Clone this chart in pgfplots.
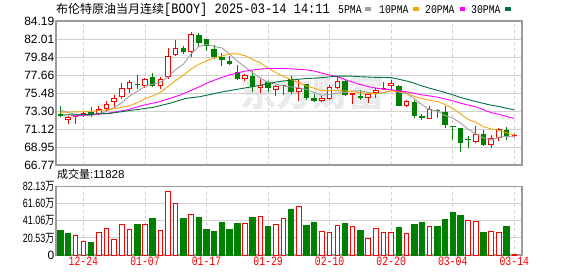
\documentclass[border=0pt]{standalone}
\usepackage{fontspec}
\setmainfont{Liberation Sans}
\newfontfamily\cjk{Noto Sans CJK SC}
\newfontfamily\mono{Liberation Mono}
\usepackage{graphicx}
\usepackage{pgfplots}
\pgfplotsset{compat=1.18}
\usepackage{pgfplotstable}
\definecolor{cred}{RGB}{255,0,0}
\definecolor{cgreen}{RGB}{0,128,0}
\definecolor{maA}{RGB}{160,160,160}
\definecolor{maB}{RGB}{245,165,10}
\definecolor{maC}{RGB}{255,0,255}
\definecolor{maD}{RGB}{0,115,60}
\definecolor{framec}{RGB}{155,155,155}
\definecolor{gridc}{RGB}{208,208,208}
\definecolor{wm}{RGB}{234,234,236}
\newcommand{\ms}[1]{\scalebox{1}[1.2]{\mono #1}}
\newcommand{\md}[1]{\scalebox{1}[1.3]{\mono #1}}
\pgfplotsset{
  wick/.style={draw=none, mark=none, forget plot, error bars/.cd, y dir=plus, y explicit, error mark=none, error bar style={draw=#1, line width=1pt}},
  body/.style 2 args={draw=none, mark=none, forget plot, error bars/.cd, y dir=plus, y explicit, error mark=none, error bar style={draw=#1, line width=#2}},
}

\pgfplotstableread{
x o h l c
1 72.21 72.66 71.69 72.62
2 72.58 72.65 71.69 72.62
3 72.70 73.20 72.60 73.10
5 72.94 73.90 72.80 73.59
6 73.56 74.47 73.20 74.19
7 74.43 75.20 73.75 74.92
8 74.96 76.69 74.80 76.04
9 76.00 77.00 75.50 76.77
11 76.33 77.25 76.10 77.21
13 76.33 77.40 75.95 77.17
14 77.38 80.96 77.17 79.92
15 80.08 81.93 80.00 80.96
17 80.44 82.90 79.79 82.62
24 77.21 77.80 76.90 77.66
26 76.09 77.13 75.48 76.49
28 75.88 76.50 75.16 76.29
29 76.37 76.50 75.20 76.50
31 75.56 77.00 74.51 76.13
34 74.51 75.10 74.45 74.84
35 74.75 76.40 74.60 76.20
36 76.13 77.50 76.00 76.93
38 75.24 75.50 74.11 75.48
40 74.84 75.50 74.27 75.32
41 75.48 76.10 74.90 75.88
42 75.96 76.81 75.90 76.08
43 76.29 77.00 75.90 76.69
45 73.95 74.60 73.80 74.51
48 72.34 73.87 72.30 73.54
54 69.59 71.45 69.40 70.48
56 69.19 70.40 68.79 70.00
57 70.08 71.30 69.67 71.13
59 70.24 70.50 70.10 70.30
}\redc

\pgfplotstableread{
x o h l c
0 72.90 73.91 72.54 72.74
4 73.18 73.75 72.60 72.78
10 76.57 77.66 75.96 76.45
12 77.38 77.94 76.20 76.33
16 80.92 81.20 80.20 80.48
18 82.54 82.70 81.00 81.53
19 81.97 82.00 80.60 81.13
20 80.85 81.30 79.60 79.85
21 79.79 80.28 78.79 79.51
22 79.39 79.96 78.90 78.99
23 78.02 78.90 77.10 77.21
25 77.50 78.10 75.64 76.25
27 76.85 76.90 75.60 76.12
30 77.17 77.50 75.30 75.64
32 76.53 76.60 74.60 74.92
33 74.92 75.40 74.40 74.51
37 76.93 77.00 75.10 75.24
39 75.16 75.88 74.60 74.84
44 76.29 76.45 73.90 73.95
46 74.35 74.67 72.42 72.74
47 72.70 72.98 72.17 72.50
49 73.46 73.50 72.43 73.30
50 73.22 73.87 71.29 71.61
51 71.40 71.42 69.84 71.35
52 71.21 71.25 68.40 69.43
53 69.95 70.24 68.79 69.85
55 70.48 71.04 69.10 69.19
58 70.96 71.37 69.84 70.24
}\greenc

\pgfplotstableread{
x v
2 23.1
3 16.2
5 26.7
6 31.6
7 18.2
8 36.4
9 30.3
11 36.8
13 29.1
14 76.5
15 62.3
17 48.9
24 38.0
26 46.5
28 36.8
29 44.1
31 58.5
34 28.8
35 27.6
36 34.9
38 33.7
40 20.0
41 32.1
42 27.6
43 27.6
45 26.4
48 34.1
53 40.9
54 39.7
56 28.8
57 27.6
59 1.18
}\vred

\pgfplotstableread{
x v
0 29.5
1 25.9
4 15.0
10 36.8
12 44.1
16 44.1
18 45.3
19 30.7
20 28.3
21 39.2
22 30.7
23 38.0
25 45.3
27 34.4
30 55.2
32 34.9
33 38.5
37 37.3
39 30.0
44 32.5
46 36.1
47 38.5
49 34.1
50 42.1
51 51.7
52 48.1
55 27.6
58 33.7
}\vgreen

\begin{document}
\begin{tikzpicture}
\useasboundingbox (0,0) rectangle (578pt,276pt);
% title
\node[anchor=west, inner sep=0pt] at (56pt,266pt) {\fontsize{12pt}{12pt}\selectfont{\cjk 布伦特原油当月连续}\ms{[BOOY] 2025-03-14 14:11}};
% legend
\node[anchor=west, inner sep=0pt] at (338pt,266.5pt) {\fontsize{9.8pt}{10pt}\selectfont\ms{5PMA}};
\fill[maA] (365pt,264.5pt) rectangle (370.5pt,268.5pt);
\node[anchor=west, inner sep=0pt] at (379pt,266.5pt) {\fontsize{9.8pt}{10pt}\selectfont\ms{10PMA}};
\fill[maB] (413pt,264.5pt) rectangle (418.5pt,268.5pt);
\node[anchor=west, inner sep=0pt] at (425pt,266.5pt) {\fontsize{9.8pt}{10pt}\selectfont\ms{20PMA}};
\fill[maC] (459.5pt,264.5pt) rectangle (465pt,268.5pt);
\node[anchor=west, inner sep=0pt] at (471pt,266.5pt) {\fontsize{9.8pt}{10pt}\selectfont\ms{30PMA}};
\fill[maD] (505pt,264.5pt) rectangle (510.5pt,268.5pt);
% watermark
\node[text=wm, inner sep=0pt] at (312pt,183pt) {\fontsize{36pt}{36pt}\selectfont\cjk\bfseries 东方财富};
% volume caption
\node[anchor=west, inner sep=0pt] at (57pt,101.5pt) {{\fontsize{11pt}{11pt}\selectfont\cjk 成交量}{\fontsize{11.5pt}{12pt}\selectfont :11828}};

\begin{axis}[
  at={(56pt,111pt)}, anchor=south west,
  scale only axis, width=466pt, height=144pt,
  xmin=-0.56, xmax=60, ymin=66.77, ymax=84.19,
  xtick={3,11,19,27,35,43,51,59}, xticklabels={,,,,,,,},
  ytick={66.77,68.95,71.12,73.30,75.48,77.66,79.84,82.01,84.19},
  yticklabels={66.77,68.95,71.12,73.30,75.48,77.66,79.84,82.01,84.19},
  yticklabel style={font=\fontsize{12pt}{12pt}\selectfont, text=black, inner sep=1.5pt},
  major tick length=0pt,
  xmajorgrids, ymajorgrids,
  major x grid style={draw=gridc, dash pattern=on 3pt off 3pt, line width=0.8pt},
  major y grid style={draw=gridc, line width=0.9pt},
  axis line style={draw=framec, line width=1.4pt},
]
% green candles
\addplot[wick=cgreen] table[x=x, y=l, y error plus expr={\thisrow{h}-\thisrow{l}}] {\greenc};
\addplot[body={cgreen}{5.5pt}] table[x=x, y=c, y error plus expr={max(\thisrow{o}-\thisrow{c},0.12)}] {\greenc};
% red candles
\addplot[wick=cred] table[x=x, y=l, y error plus expr={\thisrow{h}-\thisrow{l}}] {\redc};
\addplot[body={cred}{5.5pt}] table[x=x, y=o, y error plus expr={max(\thisrow{c}-\thisrow{o},0.12)}] {\redc};
\addplot[body={white}{3.5pt}] table[x=x, y expr={\thisrow{o}+0.12}, y error plus expr={max(\thisrow{c}-\thisrow{o}-0.24,0)}] {\redc};
% moving averages
\addplot[maA, line width=0.9pt] coordinates {
(0,73.42)(1,73.10)(2,72.90)(3,72.78)(4,72.77)(5,72.94)(6,73.26)(7,73.72)(8,74.30)(9,75.10)
(10,75.67)(11,76.28)(12,76.56)(13,76.79)(14,77.42)(15,78.32)(16,78.97)(17,80.23)(18,81.10)(19,81.34)
(20,81.12)(21,80.93)(22,80.20)(23,79.34)(24,78.64)(25,77.92)(26,77.32)(27,76.75)(28,76.56)(29,76.33)
(30,76.21)(31,76.14)(32,75.90)(33,75.54)(34,75.21)(35,75.32)(36,75.48)(37,75.54)(38,75.74)(39,75.74)
(40,75.56)(41,75.35)(42,75.51)(43,75.75)(44,75.58)(45,75.41)(46,74.79)(47,74.08)(48,73.45)(49,73.32)
(50,72.74)(51,72.46)(52,71.85)(53,71.11)(54,70.54)(55,70.06)(56,69.79)(57,70.13)(58,70.21)(59,70.17)};
\addplot[maB, line width=0.9pt] coordinates {
(0,73.14)(3,73.22)(6,73.42)(8,73.75)(9,73.94)
(10,74.31)(11,74.77)(12,75.14)(13,75.55)(14,76.26)(15,77.00)(16,77.63)(17,78.40)(18,78.95)(19,79.38)
(20,79.72)(21,79.95)(22,80.22)(23,80.22)(24,79.99)(25,79.52)(26,79.13)(27,78.48)(28,77.95)(29,77.49)
(30,77.07)(31,76.73)(32,76.33)(33,76.05)(34,75.77)(35,75.77)(36,75.81)(37,75.72)(38,75.64)(39,75.48)
(40,75.44)(41,75.42)(42,75.53)(43,75.75)(44,75.66)(45,75.49)(46,75.07)(47,74.80)(48,74.60)(49,74.45)
(50,74.08)(51,73.63)(52,72.97)(53,72.28)(54,71.93)(55,71.40)(56,71.13)(57,70.99)(58,70.66)(59,70.36)};
\addplot[maC, line width=0.9pt] coordinates {
(1.4,72.70)(3,72.78)(6,73.00)(8.6,73.42)(10.8,74.00)(12.9,74.43)(15.6,75.24)(17,75.80)(18,76.20)(19,76.66)
(20,77.02)(21,77.36)(22,77.68)(23,77.89)(24,78.13)(25,78.26)(26,78.38)(27,78.44)(28,78.45)(29,78.44)
(30,78.40)(31,78.34)(32,78.28)(33,78.14)(34,77.88)(35,77.65)(36,77.47)(37,77.10)(38,76.80)(39,76.49)
(40,76.26)(41,76.08)(42,75.93)(43,75.90)(44,75.72)(45,75.63)(46,75.44)(47,75.26)(48,75.12)(49,74.97)
(50,74.76)(51,74.53)(52,74.25)(53,74.02)(54,73.80)(55,73.45)(56,73.10)(57,72.90)(58,72.63)(59,72.41)};
\addplot[maD, line width=0.9pt] coordinates {
(0,72.82)(3,72.86)(6.5,73.02)(9.5,73.42)(12.1,73.75)(14.2,74.23)(16.4,74.84)(18.1,75.03)(21.2,75.64)(25.5,76.33)(28,76.80)
(29,76.94)(30,77.03)(31,77.15)(32,77.23)(33,77.27)(34,77.34)(35,77.43)(36,77.52)(37,77.53)(38,77.51)(39,77.45)
(40,77.41)(41,77.37)(42,77.36)(43,77.34)(44,77.14)(45,76.93)(46,76.67)(47,76.33)(48,76.06)(49,75.81)
(50,75.53)(51,75.26)(52,74.94)(53,74.69)(54,74.45)(55,74.22)(56,74.00)(57,73.84)(58,73.63)(59,73.43)};
\end{axis}

\begin{axis}[
  at={(56pt,21pt)}, anchor=south west,
  scale only axis, width=466pt, height=68.3pt,
  xmin=-0.56, xmax=60, ymin=0, ymax=82.13,
  xtick={3,11,19,27,35,43,51,59},
  xticklabels={\md{12-24},\md{01-07},\md{01-17},\md{01-29},\md{02-10},\md{02-20},\md{03-04},\md{03-14}},
  xticklabel style={font=\fontsize{9.8pt}{10pt}\selectfont, text=cred, inner sep=2pt},
  ytick={0,20.53,41.06,61.60,82.13},
  yticklabels={0,\scalebox{0.75}[1]{20.53{\cjk 万}},\scalebox{0.75}[1]{41.06{\cjk 万}},\scalebox{0.75}[1]{61.60{\cjk 万}},\scalebox{0.75}[1]{82.13{\cjk 万}}},
  yticklabel style={font=\fontsize{12pt}{12pt}\selectfont, text=black, inner sep=1.5pt},
  major tick length=0pt,
  xmajorgrids, ymajorgrids,
  major x grid style={draw=gridc, dash pattern=on 3pt off 3pt, line width=0.8pt},
  major y grid style={draw=gridc, line width=0.9pt},
  axis line style={draw=framec, line width=1.4pt},
  ybar, bar shift=0pt,
]
\addplot[ybar, bar width=5.5pt, fill=cgreen, draw=cgreen, line width=0pt] table[x=x, y=v] {\vgreen};
\addplot[ybar, bar width=4.5pt, fill=white, draw=cred, line width=1pt] table[x=x, y=v] {\vred};
\end{axis}
\end{tikzpicture}
\end{document}
